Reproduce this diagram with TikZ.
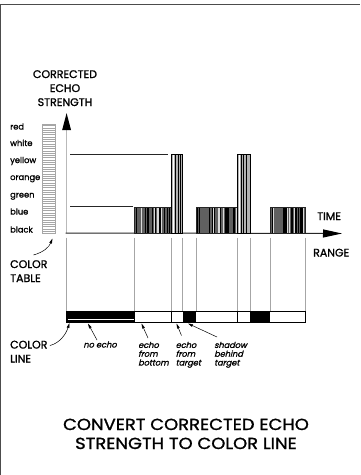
\documentclass[tikz,border=0pt]{standalone}
\usepackage{fontspec}
\setmainfont{Poppins}[FakeBold=1.3]
\newfontfamily\slfont[FakeSlant=0.25,FakeBold=1.3]{Poppins}
\newfontfamily\widefont[FakeBold=1.3,FakeStretch=1.12]{Poppins}
\usetikzlibrary{arrows.meta}
\newcommand\echoblock[4]{% x1 x2 top seed
  \fill[gray!75!black] (#1,#3) rectangle (#2,233);
  \pgfmathsetseed{#4}
  \foreach \k in {1,...,20}{\pgfmathsetmacro\xx{#1+0.8+rnd*(#2-#1-1.6)}\draw[black,line width=0.7] (\xx,#3) -- (\xx,233);}
  \foreach \k in {1,...,5}{\pgfmathsetmacro\xx{#1+0.8+rnd*(#2-#1-1.6)}\draw[gray!30,line width=0.4] (\xx,#3) -- (\xx,233);}
  \draw[black!85,line width=0.6] (#1,#3) rectangle (#2,233);}
\newcommand\tallbar[3]{% x1 x2 top
  \fill[gray!60] (#1,#3) rectangle (#2,233);
  \draw[white,line width=0.9] (#1+2,#3) -- (#1+2,233);
  \foreach \o in {3.8,6.2,8.6}{\draw[black,line width=0.8] (#1+\o,#3) -- (#1+\o,233);}
  \draw[black,line width=0.9] (#1,#3) rectangle (#2,233);}
\begin{document}
\begin{tikzpicture}[x=1pt,y=-1pt,
  captext/.style={inner sep=0,font=\fontsize{11}{14}\selectfont},
  small/.style={inner sep=0,font=\fontsize{8.3}{9}\selectfont,anchor=base west},
  note/.style={inner sep=0,font=\slfont\fontsize{8.2}{8.8}\selectfont,align=left},
  divider/.style={gray!70,line width=0.6},
  level/.style={gray!30!black,line width=0.7},
  pointer/.style={black,line width=0.5,-{Triangle[length=5pt,width=2.6pt]}}]
\useasboundingbox (0,0) rectangle (360,475);
\fill[white] (0,0) rectangle (360,475);
% frame
\draw[gray!60!black,line width=1.4] (0,4.6) -- (360,4.6);
\draw[gray!60!black,line width=1.2] (0.6,4.6) -- (0.6,475);

% axis title (base = last line)
\node[captext,align=center,anchor=base] (ytitle) at (65,106) {CORRECTED\\ECHO\\STRENGTH};

% color table
\foreach \i in {0,...,46}{\draw[gray!70,line width=0.45] (42,125.5+\i*2.3) -- (55,125.5+\i*2.3);}
\draw[gray!70,line width=0.5] (42,124.5) rectangle (55,233);
\coordinate (tablebot) at (52.5,238.5);
\node[small] (cred) at (10,129.5) {red};
\node[small] (cwhite) at (10,146) {white};
\node[small] (cyellow) at (10,163) {yellow};
\node[small] (corange) at (10,180) {orange};
\node[small] (cgreen) at (10,197.5) {green};
\node[small] (cblue) at (10,214.5) {blue};
\node[small] (cblack) at (10,232.5) {black};

% axes
\coordinate (orig) at (66.6,233);
\coordinate (ytop) at (66.6,113);
\coordinate (xend) at (342,233.5);
\draw[gray!55,line width=1.3,-{Triangle[length=17pt,width=8.5pt,fill=black,color=black]}] (orig) -- (ytop);
\draw[gray!30!black,line width=1,shorten <=-1pt,-{Triangle[length=19pt,width=8pt,fill=black,color=black]}] (orig) -- (xend);

% level lines
\draw[level] (70,154.7) -- (168,154.7);
\draw[level] (70,206.8) -- (133,206.8);

% echo bars
\echoblock{134}{171.7}{207.7}{11}
\tallbar{171.7}{182.7}{154}
\echoblock{196}{237.3}{207.7}{23}
\tallbar{237.3}{250}{154}
\echoblock{270}{305.7}{207.7}{37}

% dividers
\foreach \x in {66.6,134.5,171.7,182.5,196,237.3,250,270,305.7}{\draw[divider] (\x,237.5) -- (\x,310.5);}

% color line
\draw[black,line width=0.7] (66.6,311) rectangle (305.7,322);
\fill[black] (66.6,311) rectangle (134.5,322);
\draw[white,line width=0.4] (67.5,319.3) -- (134,319.3);
\fill[black] (182.5,311) rectangle (196,322);
\fill[black] (250,311) rectangle (270,322);
\draw[black,line width=0.6] (171.7,311) -- (171.7,322);
\draw[black,line width=0.6] (237.3,311) -- (237.3,322);

% axis labels
\node[captext,anchor=base west] (time) at (317,220) {TIME};
\node[captext,anchor=base west] (range) at (313,256.5) {RANGE};
\node[captext,anchor=base west,align=left] (ctable) at (10,282) {COLOR\\TABLE};
\node[captext,anchor=base west,align=left] (cline) at (10,362.5) {COLOR\\LINE};

% pointers from labels
\coordinate (ctstart) at (33.5,255);
\draw[pointer] (ctstart) .. controls (44,252) and (49,247) .. (tablebot);
\coordinate (clstart) at (50,345.5);
\coordinate (cltip) at (69.5,323);
\draw[pointer] (clstart) .. controls (60,343) and (66,334) .. (cltip);

% notes (base = last line)
\node[note,anchor=base] (noecho) at (100,347.5) {no echo};
\node[note,anchor=base west] (nbottom) at (138,365.5) {echo\\from\\bottom};
\node[note,anchor=base west] (ntarget) at (175.5,365.5) {echo\\from\\target};
\node[note,anchor=base west] (nshadow) at (214,365.5) {shadow\\behind\\target};
\coordinate (p1a) at (97,340); \coordinate (p1b) at (88,323.5);
\coordinate (p2a) at (148,338); \coordinate (p2b) at (141.5,323.5);
\coordinate (p3a) at (181.5,335.5); \coordinate (p3b) at (176.5,323.5);
\coordinate (p4a) at (217,337); \coordinate (p4b) at (188,323.5);
\draw[pointer] (p1a) -- (p1b);
\draw[pointer] (p2a) -- (p2b);
\draw[pointer] (p3a) -- (p3b);
\draw[pointer] (p4a) -- (p4b);

% title (base = last line)
\node[inner sep=0,font=\widefont\fontsize{16}{19}\selectfont,align=center,anchor=base] (title) at (186,449) {CONVERT CORRECTED ECHO\\STRENGTH TO COLOR LINE};
\end{tikzpicture}
\end{document}
